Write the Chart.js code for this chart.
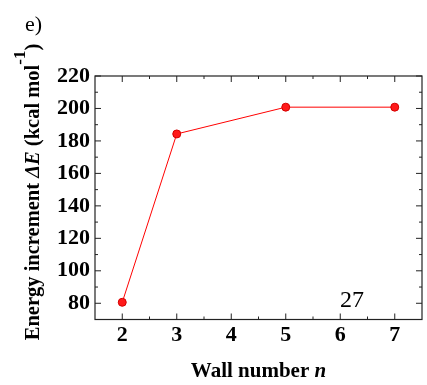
<!DOCTYPE html>
<html>
<head>
<meta charset="utf-8">
<script src="https://cdn.jsdelivr.net/npm/chart.js@4"></script>
<style>
    html, body { margin: 0; padding: 0; background: #fff; }
    #wrap { width: 427px; height: 385px; position: relative; }
</style>
</head>
<body>
<div id="wrap"><canvas id="chart"></canvas></div>
<script>
// Data
const wallNumbers = [2, 3, 5, 7];
const energyIncrement = [80.6, 184.3, 200.8, 200.8];
const xTicks = [2, 3, 4, 5, 6, 7];
const xMinorTicks = [2.5, 3.5, 4.5, 5.5, 6.5];
const yTicks = [80, 100, 120, 140, 160, 180, 200, 220];
const yMinorTicks = [90, 110, 130, 150, 170, 190, 210];
const panelLabel = 'e)';
const annotation = '27';

const SERIF = '"Liberation Serif", "DejaVu Serif", serif';

// Draw a run of differently styled text pieces starting at x
function drawRuns(ctx, runs, x, y) {
    let cx = x;
    runs.forEach(r => {
        ctx.font = r.font;
        ctx.fillText(r.text, cx, y + (r.dy || 0));
        cx += ctx.measureText(r.text).width;
    });
}
function runsWidth(ctx, runs) {
    return runs.reduce((w, r) => { ctx.font = r.font; return w + ctx.measureText(r.text).width; }, 0);
}

const framePlugin = {
    id: 'frame',
    afterDraw(chart) {
        const { ctx, chartArea: a, scales: { x, y } } = chart;
        ctx.save();
        ctx.strokeStyle = '#222';
        ctx.lineWidth = 1.2;
        ctx.strokeRect(a.left, a.top, a.right - a.left, a.bottom - a.top);

        // inward ticks on all four sides
        const tick = (x1, y1, x2, y2) => { ctx.beginPath(); ctx.moveTo(x1, y1); ctx.lineTo(x2, y2); ctx.stroke(); };
        ctx.lineWidth = 1;
        xTicks.forEach(v => { const px = x.getPixelForValue(v); tick(px, a.bottom, px, a.bottom - 6); tick(px, a.top, px, a.top + 6); });
        xMinorTicks.forEach(v => { const px = x.getPixelForValue(v); tick(px, a.bottom, px, a.bottom - 3); tick(px, a.top, px, a.top + 3); });
        yTicks.forEach(v => { const py = y.getPixelForValue(v); tick(a.left, py, a.left + 6, py); tick(a.right, py, a.right - 6, py); });
        yMinorTicks.forEach(v => { const py = y.getPixelForValue(v); tick(a.left, py, a.left + 3, py); tick(a.right, py, a.right - 3, py); });

        ctx.fillStyle = '#000';
        ctx.textBaseline = 'alphabetic';
        ctx.textAlign = 'left';

        // panel label and annotation
        ctx.font = '22px ' + SERIF;
        ctx.fillText(panelLabel, 25, 31);
        ctx.font = '24px ' + SERIF;
        ctx.textAlign = 'center';
        ctx.fillText(annotation, 352, 307);
        ctx.textAlign = 'left';

        // x axis title
        const xRuns = [
            { text: 'Wall number ', font: 'bold 21px ' + SERIF },
            { text: 'n', font: 'italic bold 21px ' + SERIF },
        ];
        drawRuns(ctx, xRuns, (a.left + a.right) / 2 - runsWidth(ctx, xRuns) / 2, 377);

        // y axis title (rotated)
        const yRuns = [
            { text: 'Energy increment ', font: 'bold 20.5px ' + SERIF },
            { text: '\u0394E', font: 'italic bold 20.5px ' + SERIF },
            { text: ' (kcal mol', font: 'bold 20.5px ' + SERIF },
            { text: '-1', font: 'bold 17px ' + SERIF, dy: -14 },
            { text: ')', font: 'bold 20.5px ' + SERIF },
        ];
        ctx.translate(39, 192);
        ctx.rotate(-Math.PI / 2);
        drawRuns(ctx, yRuns, -runsWidth(ctx, yRuns) / 2, 0);
        ctx.restore();
    }
};

const tickFont = { family: SERIF, size: 22, weight: 'bold' };

new Chart(document.getElementById('chart'), {
    type: 'line',
    data: {
        datasets: [{
            data: wallNumbers.map((n, i) => ({ x: n, y: energyIncrement[i] })),
            borderColor: '#ff0000',
            borderWidth: 1,
            pointRadius: 4,
            pointBackgroundColor: '#ff1a1a',
            pointBorderColor: '#d40000',
            pointBorderWidth: 1,
            tension: 0,
        }],
    },
    options: {
        responsive: true,
        maintainAspectRatio: false,
        animation: false,
        layout: { padding: { top: 76, right: 2, left: 0, bottom: 0 } },
        plugins: { legend: { display: false }, tooltip: { enabled: false } },
        scales: {
            x: {
                type: 'linear',
                min: 1.5,
                max: 7.5,
                afterBuildTicks: s => { s.ticks = xTicks.map(v => ({ value: v })); },
                afterFit: s => { s.height = 65.5; },
                grid: { display: false, drawTicks: false },
                border: { display: false },
                ticks: { font: tickFont, color: '#000', padding: 3, maxRotation: 0, autoSkip: false },
            },
            y: {
                min: 70,
                max: 220,
                afterBuildTicks: s => { s.ticks = yTicks.map(v => ({ value: v })); },
                afterFit: s => { s.width = 95; },
                grid: { display: false, drawTicks: false },
                border: { display: false },
                ticks: { font: tickFont, color: '#000', padding: 5, autoSkip: false },
            },
        },
    },
    plugins: [framePlugin],
});
</script>
</body>
</html>
